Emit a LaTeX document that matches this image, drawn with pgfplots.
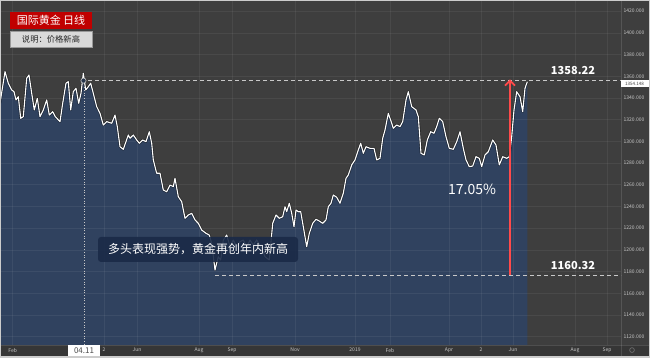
\documentclass[border=0pt]{standalone}
\usepackage{fontspec}
\setmainfont{Noto Sans CJK SC}
\usepackage{pgfplots}
\pgfplotsset{compat=1.18}
\usepackage{pgfplotstable}
\usetikzlibrary{arrows.meta}
\definecolor{bgc}{HTML}{3E3E3E}
\definecolor{stripc}{HTML}{363636}
\definecolor{fillc}{HTML}{30425F}
\definecolor{boxc}{HTML}{1A2A47}
\definecolor{redc}{HTML}{C00000}
\definecolor{arrowc}{HTML}{FF4A4A}
\definecolor{lblc}{HTML}{C8C8C8}

\pgfplotstableread{
x y
0 1335.1
5 1364.3
8.3 1353.6
11.7 1347.4
14 1345.8
16 1338.2
18.3 1341.2
20.7 1321.3
23.3 1322.8
26.7 1358.2
29 1361.2
31.7 1344.3
34.3 1329.0
37.3 1339.7
40 1322.8
43.3 1329.0
46.7 1338.2
49.3 1324.3
52.7 1327.4
55.3 1322.8
60 1318.2
62.7 1335.1
66 1353.6
68.3 1355.0
70.7 1329.0
73.3 1345.8
76 1349.0
78.7 1335.1
81 1344.3
83.3 1362.8
85.7 1347.4
88.3 1350.4
90.7 1353.6
93.3 1344.3
96.7 1332.0
100 1325.9
103.3 1315.1
106.7 1318.2
111.7 1316.7
115 1324.3
117.3 1313.6
120 1295.1
123.3 1292.7
128.3 1305.9
130 1302.9
133.3 1305.9
136.7 1301.3
139.3 1298.3
142.7 1301.3
146 1299.7
149.3 1308.9
151.7 1298.3
153.3 1282.9
156.7 1270.6
160 1270.6
163.3 1255.2
166.7 1253.6
170 1259.8
173.3 1258.3
175 1266.0
178.3 1249.0
181.7 1244.4
185 1229.1
188.3 1232.2
191.7 1233.7
195 1227.6
198.3 1224.5
201.7 1218.3
206 1215.3
209.3 1213.7
211.7 1206.1
215 1181.5
218.3 1193.7
220.7 1190.7
223.3 1209.1
226.7 1213.7
230 1203.0
233.3 1209.1
236.7 1203.0
240 1207.6
243.3 1209.1
246.7 1203.0
250 1209.1
253.3 1204.5
256.7 1209.1
261.7 1201.5
265 1193.7
269.3 1190.7
272.7 1224.5
276 1232.2
279.3 1229.1
282.7 1230.6
285 1239.8
286.7 1235.2
289.3 1243.0
291.7 1233.7
294 1221.4
296 1236.8
298.3 1235.2
300.7 1235.2
303.3 1221.4
306.7 1203.0
309.3 1215.3
312.7 1224.5
316 1228.2
319.3 1226.6
322.7 1224.5
326 1227.6
328.3 1239.8
331 1243.0
333.3 1250.6
336.7 1248.5
340 1243.0
343.3 1252.2
346 1266.0
348.3 1269.0
351.7 1278.3
355 1282.9
358.3 1292.1
360.7 1298.3
363.3 1289.0
366 1295.1
370 1293.6
374 1293.6
376.7 1282.9
380 1284.4
382.7 1302.9
385 1310.5
388.3 1325.9
391.7 1316.7
393.3 1312.1
396.7 1315.1
400 1313.6
402.7 1318.2
406 1338.2
408.3 1345.8
411.7 1332.0
416 1329.0
418.3 1322.8
421 1289.0
424.3 1287.5
427.3 1301.3
430.7 1308.9
434 1307.5
436.7 1313.6
439.3 1321.3
442.7 1318.2
446 1304.3
449.3 1293.6
453.3 1292.7
456.7 1299.7
460 1308.9
463.3 1293.6
466 1282.9
469.3 1276.7
472.7 1277.3
476 1285.9
479.3 1284.4
481.7 1276.7
485 1287.5
488.3 1290.5
492.7 1301.3
496 1296.7
499.3 1278.3
502.7 1285.9
506.7 1284.4
509.3 1285.9
511.7 1304.3
514 1329.0
516.7 1345.8
520 1341.2
522.7 1327.4
525 1349.0
527.3 1355.0
}\gold

\begin{document}
\begin{tikzpicture}
\begin{axis}[
  scale only axis, width=650pt, height=357pt,
  xmin=0, xmax=650, ymin=1101.3, ymax=1430.3,
  axis lines=none, ticks=none, clip=true]

% background
\fill[bgc] (axis cs:0,1101.3) rectangle (axis cs:650,1430.3);

% area
\addplot[fill=fillc, draw=none] table[x=x,y=y]{\gold} \closedcycle;

% grid
\pgfplotsinvokeforeach{1120,1140,...,1420}{
  \draw[white, opacity=0.06, line width=0.6pt] (axis cs:0,#1) -- (axis cs:621,#1);
}
\pgfplotsinvokeforeach{12.7,104,137,199,232,295,355,390,449,481,513,575,607}{
  \draw[white, opacity=0.06, line width=0.6pt] (axis cs:#1,1112.35) -- (axis cs:#1,1430.3);
}

% line
\addplot[black, opacity=0.45, line width=2.4pt, line join=round] table[x=x,y=y]{\gold};
\addplot[white, line width=1.1pt, line join=round] table[x=x,y=y]{\gold};

% vertical crosshair
\draw[lblc, dotted, line width=0.7pt] (axis cs:84,1355) -- (axis cs:84,1101.3);

% bottom strip and right column separator
\fill[stripc] (axis cs:0,1101.3) rectangle (axis cs:650,1112.35);
\draw[white, opacity=0.12, line width=0.6pt] (axis cs:621,1101.3) -- (axis cs:621,1430.3);
\draw[white, opacity=0.12, line width=0.6pt] (axis cs:0,1112.35) -- (axis cs:650,1112.35);

% dashed reference lines
\addplot[color=lblc, dash pattern=on 4pt off 3pt, line width=0.9pt] coordinates {(88,1356.6) (621,1356.6)};
\addplot[color=lblc, dash pattern=on 4pt off 3pt, line width=0.9pt] coordinates {(215,1176.9) (621,1176.9)};

% peak marker
\addplot[only marks, mark=*, mark size=2.6pt, mark options={fill=fillc!80!black, draw=lblc, line width=0.6pt}] coordinates {(83.5,1356.0)};

% red arrow
\draw[arrowc, line width=1.8pt, -{Straight Barb[length=5pt,width=10pt]}] (axis cs:510,1176.9) -- (axis cs:510,1357.2);

% annotations
\node[text=white, font=\bfseries\fontsize{11}{13}\selectfont] at (axis cs:573,1364.9) {1358.22};
\node[text=white, font=\bfseries\fontsize{11}{13}\selectfont] at (axis cs:573,1185.2) {1160.32};
\node[text=white, font=\fontsize{14}{16}\selectfont] at (axis cs:472,1255.7) {17.05\%};
\node[fill=boxc, fill opacity=0.9, text opacity=1, text=white, rounded corners=3pt,
      minimum width=200pt, minimum height=25pt, inner sep=0pt,
      font=\fontsize{12}{14}\selectfont] at (axis cs:198,1200.4) {多头表现强势，黄金再创年内新高};

% title boxes
\node[fill=redc, text=white, minimum width=82pt, minimum height=17pt, inner sep=0pt,
      font=\fontsize{11}{13}\selectfont] at (axis cs:51,1411.4) {国际黄金\ 日线};
\node[fill=black!15, draw=black!40, line width=0.5pt, text=black!85, minimum width=82pt, minimum height=16pt, inner sep=0pt,
      font=\fontsize{8.3}{10}\selectfont] at (axis cs:51,1394.4) {说明：价格新高};

% right axis labels
\pgfplotsinvokeforeach{1120,1140,...,1420}{
  \node[text=lblc, font=\fontsize{5}{6}\selectfont] at (axis cs:634,#1) {#1.000};
}
% current price tag
\node[fill=white, text=black!75, minimum width=28pt, minimum height=7pt, inner sep=0pt,
      font=\fontsize{4.5}{5}\selectfont] at (axis cs:634.5,1353.2) {1354.148};

% bottom month labels
\node[text=lblc, font=\fontsize{5}{6}\selectfont] at (axis cs:12.7,1107.7) {Feb};
\node[text=lblc, font=\fontsize{5}{6}\selectfont] at (axis cs:104,1107.7) {2};
\node[text=lblc, font=\fontsize{5}{6}\selectfont] at (axis cs:137,1107.7) {Jun};
\node[text=lblc, font=\fontsize{5}{6}\selectfont] at (axis cs:199,1107.7) {Aug};
\node[text=lblc, font=\fontsize{5}{6}\selectfont] at (axis cs:232,1107.7) {Sep};
\node[text=lblc, font=\fontsize{5}{6}\selectfont] at (axis cs:295,1107.7) {Nov};
\node[text=lblc, font=\fontsize{5}{6}\selectfont] at (axis cs:355,1107.7) {2019};
\node[text=lblc, font=\fontsize{5}{6}\selectfont] at (axis cs:390,1107.7) {Feb};
\node[text=lblc, font=\fontsize{5}{6}\selectfont] at (axis cs:449,1107.7) {Apr};
\node[text=lblc, font=\fontsize{5}{6}\selectfont] at (axis cs:481,1107.7) {2};
\node[text=lblc, font=\fontsize{5}{6}\selectfont] at (axis cs:513,1107.7) {Jun};
\node[text=lblc, font=\fontsize{5}{6}\selectfont] at (axis cs:575,1107.7) {Aug};
\node[text=lblc, font=\fontsize{5}{6}\selectfont] at (axis cs:607,1107.7) {Sep};
\node[fill=white, text=black!70, minimum width=32pt, minimum height=12pt, inner sep=0pt,
      font=\fontsize{8}{9}\selectfont] at (axis cs:84,1106.8) {04.11};
\draw[black!55, line width=0.6pt] (axis cs:632,1107.7) circle[radius=2.4pt];

% frame
\draw[black!20, line width=1.2pt] (axis cs:0,1101.3) rectangle (axis cs:650,1430.3);
\end{axis}
\end{tikzpicture}
\end{document}
